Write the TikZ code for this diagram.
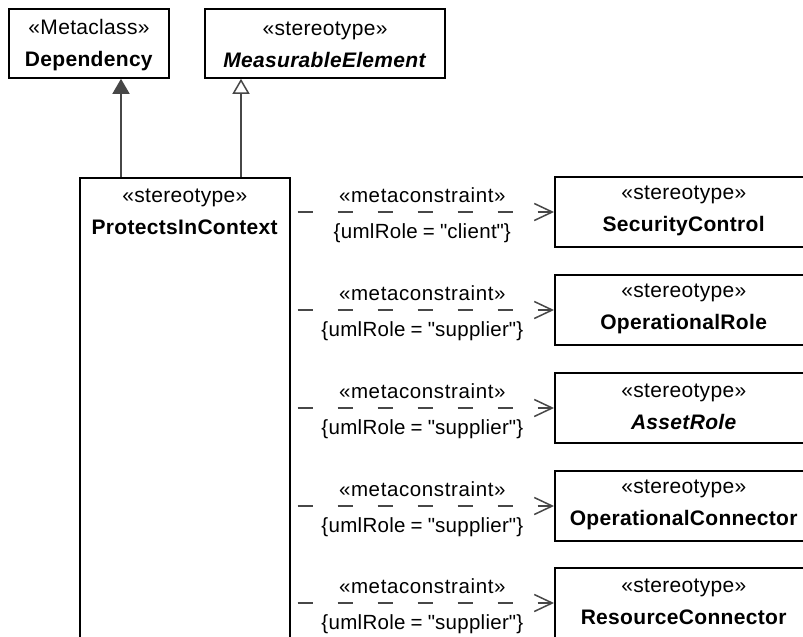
\documentclass[tikz,border=0pt]{standalone}
\usepackage{fontspec}
\setmainfont{Liberation Sans}
\newfontfamily\boxfont[LetterSpace=1.5]{Liberation Sans}
\newfontfamily\lblfont[LetterSpace=3]{Liberation Sans}
\newfontfamily\clfont[LetterSpace=1.5,WordSpace=0.85]{Liberation Sans}
\usetikzlibrary{arrows.meta,calc}
\begin{document}
\begin{tikzpicture}[x=1pt,y=-1pt,
  box/.style={draw=black,line width=1.6pt,rectangle,inner sep=0pt,fill=white},
  txt/.style={font=\boxfont\fontsize{21}{31.5}\selectfont,align=center,inner sep=0pt},
  lbl/.style={font=\lblfont\fontsize{20.5}{22}\selectfont,inner sep=0pt},
  cl/.style={font=\clfont\fontsize{20.5}{22}\selectfont,inner sep=0pt},
  conn/.style={draw=black!72,line width=1.5pt},
  gen/.style={conn,-{Triangle[length=15pt,width=17pt,fill=black!72]}},
  genopen/.style={conn,-{Triangle[open,length=15pt,width=17pt,fill=white]}},
  metaarrow/.style={conn,dash pattern=on 15pt off 25pt,dash phase=33pt,-{Straight Barb[length=18pt,width=17pt]}},
  rbox/.style={box,minimum width=258pt,minimum height=70pt,anchor=west},
]
\useasboundingbox (0,0) rectangle (803,637);
\fill[white] (0,0) rectangle (803,637);
\clip (0,0) rectangle (803,637);

% top boxes
\node[box,minimum width=160pt,minimum height=69pt] (dep) at (89,43.5) {};
\node[txt] (deptext) at ($(dep.center)+(0,1.5)$) {«Metaclass»\\\textbf{Dependency}};
\node[box,minimum width=240pt,minimum height=69pt] (meas) at (325,43.5) {};
\node[txt] (meastext) at ($(meas.center)+(0,1.5)$) {«stereotype»\\\textbf{\textit{MeasurableElement}}};

% main stereotype box (extends below the visible area)
\node[box,minimum width=210pt,minimum height=523pt,anchor=north west] (pic) at (79,177) {};
\node[txt] (pictext) at ($(pic.north)+(0,35)$) {«stereotype»\\\textbf{ProtectsInContext}};

% generalisation arrows
\coordinate (g1) at ($(pic.north west)+(42,0)$);
\coordinate (g2) at ($(pic.north west)+(162,0)$);
\draw[gen] (g1) -- (g1 |- dep.south);
\draw[genopen] (g2) -- (g2 |- meas.south);

% right boxes
\foreach \t/\y/\nm in {sc/212/SecurityControl, or/310/OperationalRole, ar/408/\textit{AssetRole}, oc/506/OperationalConnector, rc/603/ResourceConnector}{
  \node[rbox] (\t) at (554,\y) {};
  \node[txt] (\t text) at ($(\t.center)+(0,-1)$) {«stereotype»\\\textbf{\nm}};
}

% metaconstraint connectors
\foreach \t/\r/\n in {sc/client/1, or/supplier/2, ar/supplier/3, oc/supplier/4, rc/supplier/5}{
  \coordinate (s\n) at (pic.north east |- \t.west);
  \draw[metaarrow] (s\n) -- (\t.west);
  \node[lbl] (m\n) at ($($(s\n)!0.5!(\t.west)$)+(0,-17)$) {«metaconstraint»};
  \node[cl] (c\n) at ($($(s\n)!0.5!(\t.west)$)+(0,21)$) {\{umlRole = \textquotedbl\r\textquotedbl\}};
}
\end{tikzpicture}
\end{document}
